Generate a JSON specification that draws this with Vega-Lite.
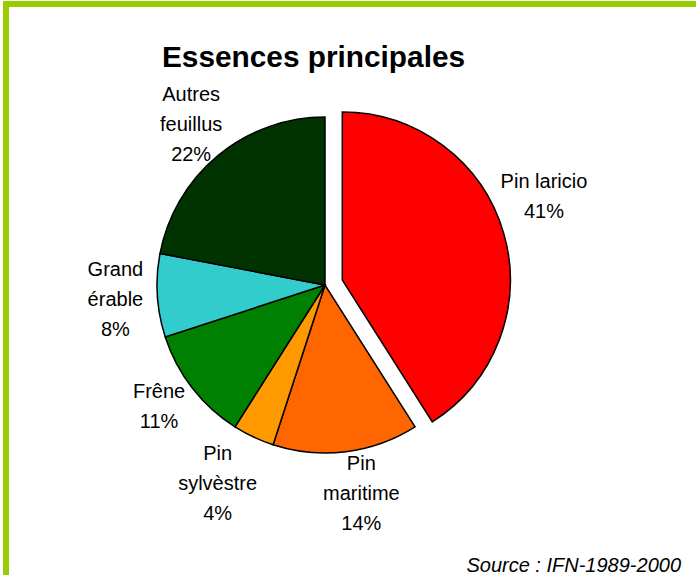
{
  "$schema": "https://vega.github.io/schema/vega-lite/v6.json",
  "width": 690,
  "height": 571,
  "autosize": "none",
  "padding": {"left": 6, "top": 4, "right": 0, "bottom": 0},
  "background": "white",
  "config": {"view": {"stroke": null}},
  "title": {
    "text": "Essences principales",
    "font": "Liberation Sans",
    "fontSize": 29.8,
    "fontWeight": "bold",
    "color": "black",
    "anchor": "middle",
    "frame": "group",
    "dx": -37.5,
    "offset": -96,
    "baseline": "alphabetic"
  },
  "data": {
    "values": [
      {"essence": "Pin laricio", "part": 41, "rang": 1, "label": "Pin laricio\n41%"},
      {"essence": "Pin maritime", "part": 14, "rang": 2, "label": "Pin\nmaritime\n14%"},
      {"essence": "Pin sylvèstre", "part": 4, "rang": 3, "label": "Pin\nsylvèstre\n4%"},
      {"essence": "Frêne", "part": 11, "rang": 4, "label": "Frêne\n11%"},
      {"essence": "Grand érable", "part": 8, "rang": 5, "label": "Grand\nérable\n8%"},
      {"essence": "Autres feuillus", "part": 22, "rang": 6, "label": "Autres\nfeuillus\n22%"}
    ]
  },
  "layer": [
    {
      "mark": {"type": "rule", "color": "#99cc00", "strokeWidth": 5, "strokeCap": "square"},
      "encoding": {"y": {"value": 0}}
    },
    {
      "mark": {"type": "rule", "color": "#99cc00", "strokeWidth": 5, "strokeCap": "square"},
      "encoding": {"x": {"value": 0}}
    },
    {
      "mark": {"type": "arc", "radius": 168, "stroke": "black", "strokeWidth": 1.5, "xOffset": -26, "yOffset": -4.5},
      "encoding": {
        "theta": {"field": "part", "type": "quantitative", "stack": true},
        "order": {"field": "rang", "type": "quantitative"},
        "color": {
          "field": "essence",
          "type": "nominal",
          "scale": {
            "domain": ["Pin laricio", "Pin maritime", "Pin sylvèstre", "Frêne", "Grand érable", "Autres feuillus"],
            "range": ["#ff0000", "#ff6600", "#ff9900", "#008000", "#33cccc", "#003300"]
          },
          "legend": null
        },
        "opacity": {"condition": {"test": "datum.essence === 'Pin laricio'", "value": 0}, "value": 1}
      }
    },
    {
      "mark": {"type": "arc", "radius": 168, "stroke": "black", "strokeWidth": 1.5, "xOffset": -8.7, "yOffset": -9.5},
      "encoding": {
        "theta": {"field": "part", "type": "quantitative", "stack": true},
        "order": {"field": "rang", "type": "quantitative"},
        "color": {
          "field": "essence",
          "type": "nominal",
          "scale": {
            "domain": ["Pin laricio", "Pin maritime", "Pin sylvèstre", "Frêne", "Grand érable", "Autres feuillus"],
            "range": ["#ff0000", "#ff6600", "#ff9900", "#008000", "#33cccc", "#003300"]
          },
          "legend": null
        },
        "opacity": {"condition": {"test": "datum.essence === 'Pin laricio'", "value": 1}, "value": 0}
      }
    },
    {
      "mark": {"type": "text", "radius": 210, "font": "Liberation Sans", "fontSize": 20, "lineBreak": "\n", "lineHeight": 30, "color": "black", "align": "center", "baseline": "middle", "xOffset": -26, "yOffset": -4.5, "dy": -28},
      "encoding": {
        "theta": {"field": "part", "type": "quantitative", "stack": true},
        "order": {"field": "rang", "type": "quantitative"},
        "text": {"field": "label", "type": "nominal"},
        "opacity": {"condition": {"test": "datum.essence === 'Grand érable' || datum.essence === 'Autres feuillus'", "value": 1}, "value": 0}
      }
    },
    {
      "mark": {"type": "text", "radius": 210, "font": "Liberation Sans", "fontSize": 20, "lineBreak": "\n", "lineHeight": 30, "color": "black", "align": "center", "baseline": "middle", "xOffset": -26, "yOffset": -4.5, "dy": -29, "dx": 10},
      "encoding": {
        "theta": {"field": "part", "type": "quantitative", "stack": true},
        "order": {"field": "rang", "type": "quantitative"},
        "text": {"field": "label", "type": "nominal"},
        "opacity": {"condition": {"test": "datum.essence === 'Pin maritime'", "value": 1}, "value": 0}
      }
    },
    {
      "mark": {"type": "text", "radius": 210, "font": "Liberation Sans", "fontSize": 20, "lineBreak": "\n", "lineHeight": 30, "color": "black", "align": "center", "baseline": "middle", "xOffset": -26, "yOffset": -4.5, "dy": -21, "dx": -18},
      "encoding": {
        "theta": {"field": "part", "type": "quantitative", "stack": true},
        "order": {"field": "rang", "type": "quantitative"},
        "text": {"field": "label", "type": "nominal"},
        "opacity": {"condition": {"test": "datum.essence === 'Pin sylvèstre'", "value": 1}, "value": 0}
      }
    },
    {
      "mark": {"type": "text", "radius": 210, "font": "Liberation Sans", "fontSize": 20, "lineBreak": "\n", "lineHeight": 30, "color": "black", "align": "center", "baseline": "middle", "xOffset": -26, "yOffset": -4.5, "dy": -22},
      "encoding": {
        "theta": {"field": "part", "type": "quantitative", "stack": true},
        "order": {"field": "rang", "type": "quantitative"},
        "text": {"field": "label", "type": "nominal"},
        "opacity": {"condition": {"test": "datum.essence === 'Frêne'", "value": 1}, "value": 0}
      }
    },
    {
      "mark": {"type": "text", "radius": 210, "font": "Liberation Sans", "fontSize": 20, "lineBreak": "\n", "lineHeight": 30, "color": "black", "align": "center", "baseline": "middle", "xOffset": -8.7, "yOffset": -9.5, "dy": -39},
      "encoding": {
        "theta": {"field": "part", "type": "quantitative", "stack": true},
        "order": {"field": "rang", "type": "quantitative"},
        "text": {"field": "label", "type": "nominal"},
        "opacity": {"condition": {"test": "datum.essence === 'Pin laricio'", "value": 1}, "value": 0}
      }
    },
    {
      "data": {"values": [{"source": "Source : IFN-1989-2000"}]},
      "mark": {"type": "text", "font": "Liberation Sans", "fontSize": 20, "fontStyle": "italic", "color": "black", "align": "right", "baseline": "alphabetic", "x": {"expr": "width - 15"}, "y": {"expr": "height - 3"}},
      "encoding": {"text": {"field": "source", "type": "nominal"}}
    }
  ]
}
